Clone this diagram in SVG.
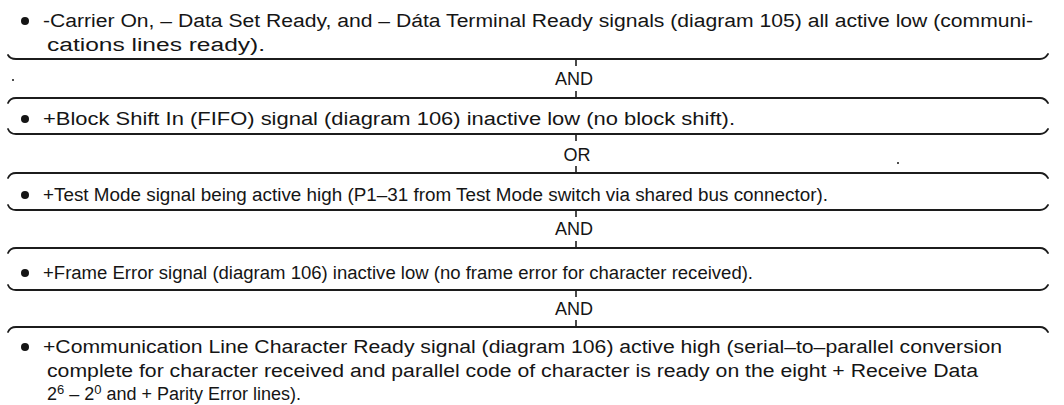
<svg xmlns="http://www.w3.org/2000/svg" width="1064" height="405" viewBox="0 0 1064 405">
<style>
.t{font-family:"Liberation Sans",Arial,sans-serif;font-size:18px;fill:#151515}
.op{font-family:"Liberation Sans",Arial,sans-serif;font-size:18px;fill:#151515;text-anchor:middle}
.br{fill:none;stroke:#1c1c1c;stroke-width:1.8;stroke-linejoin:round;stroke-linecap:round}
.tk{stroke:#1c1c1c;stroke-width:1.6}
.b{fill:#151515}
</style>
<rect width="1064" height="405" fill="#ffffff"/>
<g id="connectors">
<path class="br" d="M8,55 Q10,59 16,59 L1040,59 Q1045,59 1048,54"/>
<path class="br" d="M8,103 Q10,98 16,98 L1040,98 Q1045,98 1048,103"/>
<path class="br" d="M8,129 Q10,134 16,134 L1040,134 Q1045,134 1048,129"/>
<path class="br" d="M8,178 Q10,173 16,173 L1040,173 Q1045,173 1048,178"/>
<path class="br" d="M8,205 Q10,210 16,210 L1040,210 Q1045,210 1048,205"/>
<path class="br" d="M8,253 Q10,248 16,248 L1040,248 Q1045,248 1048,253"/>
<path class="br" d="M8,285 Q10,290 16,290 L1040,290 Q1045,290 1048,285"/>
<path class="br" d="M8,332 Q10,327 16,327 L1040,327 Q1045,327 1048,332"/>
<line class="tk" x1="576" y1="59" x2="576" y2="66"/>
<line class="tk" x1="576" y1="91" x2="576" y2="98"/>
<line class="tk" x1="576" y1="134" x2="576" y2="141"/>
<line class="tk" x1="576" y1="166" x2="576" y2="173"/>
<line class="tk" x1="576" y1="210" x2="576" y2="217"/>
<line class="tk" x1="576" y1="241" x2="576" y2="248"/>
<line class="tk" x1="576" y1="290" x2="576" y2="297"/>
<line class="tk" x1="576" y1="320" x2="576" y2="327"/>
</g>
<g id="op1"><text class="op" x="574" y="85">AND</text></g>
<g id="op2"><text class="op" x="577" y="161">OR</text></g>
<g id="op3"><text class="op" x="574" y="235">AND</text></g>
<g id="op4"><text class="op" x="574" y="315">AND</text></g>
<g id="node1">
<circle class="b" cx="25" cy="21" r="4"/>
<text class="t" x="43" y="27" textLength="990" lengthAdjust="spacingAndGlyphs">-Carrier On, – Data Set Ready, and – Dáta Terminal Ready signals (diagram 105) all active low (communi-</text>
<text class="t" x="47" y="51" textLength="218" lengthAdjust="spacingAndGlyphs">cations lines ready).</text>
</g>
<g id="node2">
<circle class="b" cx="25" cy="119" r="4"/>
<text class="t" x="43" y="125" textLength="692" lengthAdjust="spacingAndGlyphs">+Block Shift In (FIFO) signal (diagram 106) inactive low (no block shift).</text>
</g>
<g id="node3">
<circle class="b" cx="25" cy="195" r="4"/>
<text class="t" x="43" y="201" textLength="785" lengthAdjust="spacingAndGlyphs">+Test Mode signal being active high (P1–31 from Test Mode switch via shared bus connector).</text>
</g>
<g id="node4">
<circle class="b" cx="25" cy="273" r="4"/>
<text class="t" x="43" y="279" textLength="710" lengthAdjust="spacingAndGlyphs">+Frame Error signal (diagram 106) inactive low (no frame error for character received).</text>
</g>
<g id="node5">
<circle class="b" cx="25" cy="347" r="4"/>
<text class="t" x="43" y="353" textLength="959" lengthAdjust="spacingAndGlyphs">+Communication Line Character Ready signal (diagram 106) active high (serial–to–parallel conversion</text>
<text class="t" x="47" y="377" textLength="931" lengthAdjust="spacingAndGlyphs">complete for character received and parallel code of character is ready on the eight + Receive Data</text>
<text class="t" x="47" y="400">2<tspan dy="-6" font-size="13">6</tspan><tspan dy="6"> – 2</tspan><tspan dy="-6" font-size="13">0</tspan><tspan dy="6"> and + Parity Error lines).</tspan></text>
</g>
<circle class="b" cx="13" cy="80" r="1"/>
<circle class="b" cx="898" cy="163" r="1"/>
</svg>
